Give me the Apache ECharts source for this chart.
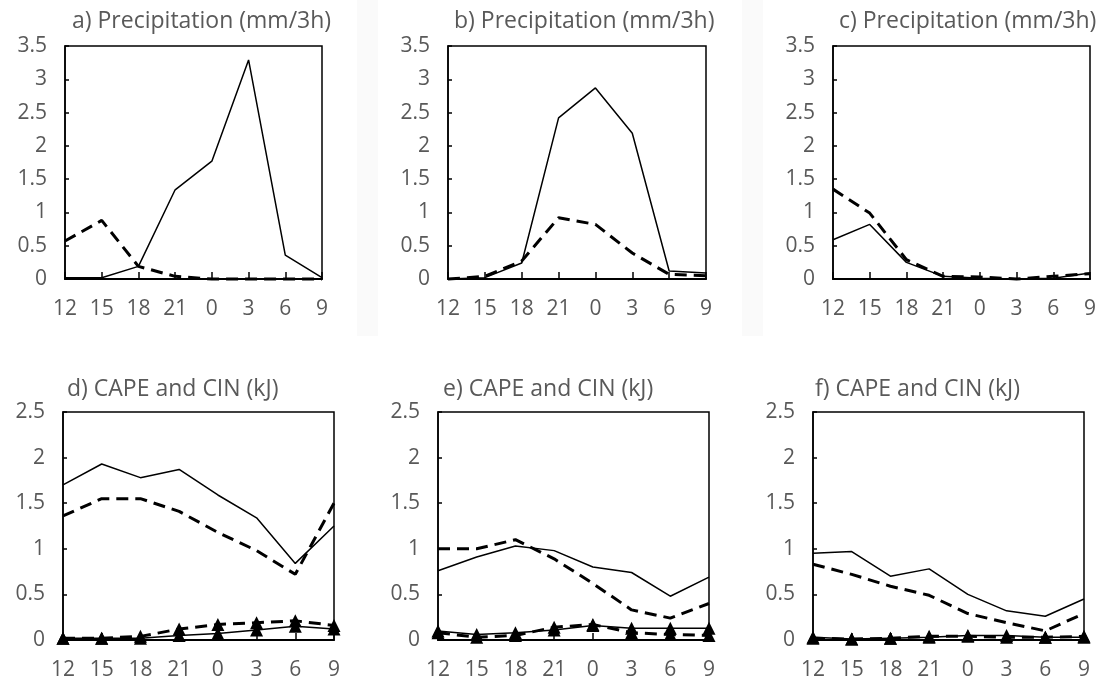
<!DOCTYPE html>
<html>
<head>
<meta charset="utf-8">
<script src="https://cdn.jsdelivr.net/npm/echarts@6/dist/echarts.min.js"></script>
<style>
html,body{margin:0;padding:0;background:#fff;}
#chart{width:1106px;height:681px;}
</style>
</head>
<body>
<div id="chart"></div>
<script>
// ---- data ----
const hours = ['12', '15', '18', '21', '0', '3', '6', '9'];

const titles = [
  'a) Precipitation (mm/3h)', 'b) Precipitation (mm/3h)', 'c) Precipitation (mm/3h)',
  'd) CAPE and CIN (kJ)', 'e) CAPE and CIN (kJ)', 'f) CAPE and CIN (kJ)'
];

const precipA_solid = [0.02, 0.02, 0.19, 1.34, 1.77, 3.29, 0.36, 0.02];
const precipA_dash  = [0.57, 0.88, 0.19, 0.04, 0.00, 0.00, 0.00, 0.00];
const precipB_solid = [0.00, 0.02, 0.24, 2.42, 2.87, 2.19, 0.12, 0.09];
const precipB_dash  = [0.00, 0.04, 0.27, 0.92, 0.82, 0.39, 0.07, 0.05];
const precipC_solid = [0.59, 0.82, 0.25, 0.04, 0.01, 0.00, 0.01, 0.09];
const precipC_dash  = [1.35, 0.99, 0.29, 0.04, 0.03, 0.00, 0.04, 0.08];

const capeD_solid = [1.70, 1.93, 1.78, 1.87, 1.59, 1.34, 0.84, 1.25];
const capeD_dash  = [1.36, 1.55, 1.55, 1.41, 1.18, 0.98, 0.72, 1.50];
const cinD_solid  = [0.02, 0.02, 0.02, 0.05, 0.07, 0.11, 0.15, 0.12];
const cinD_dash   = [0.02, 0.02, 0.04, 0.12, 0.17, 0.19, 0.21, 0.16];

const capeE_solid = [0.76, 0.91, 1.03, 0.98, 0.80, 0.74, 0.48, 0.69];
const capeE_dash  = [1.00, 1.00, 1.10, 0.89, 0.62, 0.33, 0.24, 0.40];
const cinE_solid  = [0.10, 0.06, 0.08, 0.11, 0.16, 0.13, 0.13, 0.13];
const cinE_dash   = [0.08, 0.03, 0.05, 0.14, 0.17, 0.08, 0.06, 0.05];

const capeF_solid = [0.95, 0.97, 0.70, 0.78, 0.50, 0.32, 0.26, 0.45];
const capeF_dash  = [0.83, 0.72, 0.59, 0.49, 0.29, 0.19, 0.10, 0.29];
const cinF_solid  = [0.03, 0.01, 0.02, 0.03, 0.05, 0.05, 0.03, 0.03];
const cinF_dash   = [0.02, 0.01, 0.02, 0.04, 0.04, 0.03, 0.03, 0.04];

const topMax = 3.5, bottomMax = 2.5, yStep = 0.5;

// ---- layout ----
const FONT = 'Open Sans';
const gridsPos = [
  {left: 65,  top: 46,  width: 257, height: 233},
  {left: 448, top: 46,  width: 258, height: 233},
  {left: 833, top: 46,  width: 257, height: 233},
  {left: 63,  top: 412, width: 271, height: 230},
  {left: 438, top: 412, width: 271, height: 230},
  {left: 813, top: 412, width: 271, height: 230}
];
const titlePos = [
  {left: 72, top: 10}, {left: 454, top: 10}, {left: 839, top: 10},
  {left: 67, top: 378}, {left: 443, top: 378}, {left: 815, top: 378}
];

const panels = [
  {lines: [[precipA_solid, 'solid'], [precipA_dash, 'dash']]},
  {lines: [[precipB_solid, 'solid'], [precipB_dash, 'dash']]},
  {lines: [[precipC_solid, 'solid'], [precipC_dash, 'dash']]},
  {lines: [[capeD_solid, 'solid'], [capeD_dash, 'dash'], [cinD_solid, 'solidTri'], [cinD_dash, 'dashTri']]},
  {lines: [[capeE_solid, 'solid'], [capeE_dash, 'dash'], [cinE_solid, 'solidTri'], [cinE_dash, 'dashTri']]},
  {lines: [[capeF_solid, 'solid'], [capeF_dash, 'dash'], [cinF_solid, 'solidTri'], [cinF_dash, 'dashTri']]}
];

const option = {
  backgroundColor: '#fff',
  animation: false,
  graphic: [
    {type: 'rect', shape: {x: 357, y: 0, width: 21, height: 336}, style: {fill: '#fafafa'}, z: -10},
    {type: 'rect', shape: {x: 742, y: 0, width: 21, height: 336}, style: {fill: '#fafafa'}, z: -10}
  ],
  title: titles.map((t, i) => ({
    text: t, left: titlePos[i].left, top: titlePos[i].top, padding: 0,
    textStyle: {fontFamily: FONT, fontSize: 23, fontWeight: 'normal', color: '#595959'}
  })),
  grid: gridsPos.map(g => Object.assign({show: true, borderColor: '#000', borderWidth: 1.5, backgroundColor: '#fff', containLabel: false}, g)),
  xAxis: gridsPos.map((g, i) => ({
    type: 'category', gridIndex: i, data: hours, boundaryGap: false,
    axisLine: {show: true, lineStyle: {color: '#000', width: 2}},
    axisTick: {show: true, inside: true, length: 7, lineStyle: {color: '#000', width: 1.5}},
    axisLabel: {fontFamily: FONT, fontSize: 21, color: '#595959', margin: 20, interval: 0},
    splitLine: {show: false}
  })),
  yAxis: gridsPos.map((g, i) => ({
    type: 'value', gridIndex: i, min: 0, max: i < 3 ? topMax : bottomMax, interval: yStep,
    axisLine: {show: true, lineStyle: {color: '#000', width: 1.5}},
    axisTick: {show: true, inside: true, length: 4, lineStyle: {color: '#000', width: 1.5}},
    axisLabel: {fontFamily: FONT, fontSize: 21, color: '#595959', margin: 18},
    splitLine: {show: false}
  })),
  series: []
};

panels.forEach((p, i) => {
  p.lines.forEach(([data, kind]) => {
    const dashed = kind.startsWith('dash');
    const tri = kind.endsWith('Tri');
    option.series.push({
      type: 'line', xAxisIndex: i, yAxisIndex: i, data: data,
      clip: false,
      symbol: tri ? 'triangle' : 'none',
      symbolSize: tri ? 13 : 0,
      showSymbol: tri,
      itemStyle: {color: '#000'},
      lineStyle: {color: '#000', width: dashed ? 3 : 1.5, type: dashed ? [12, 7] : 'solid', cap: 'butt'},
      z: tri ? 4 : 3
    });
  });
});

const chart = echarts.init(document.getElementById('chart'), null, {renderer: 'canvas'});
chart.setOption(option);
</script>
</body>
</html>
